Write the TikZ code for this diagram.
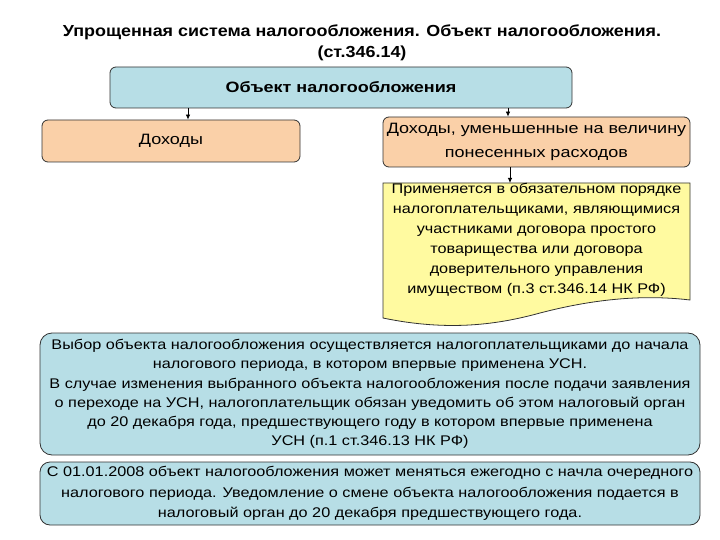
\documentclass[tikz,border=0pt]{standalone}
\usepackage{fontspec}
\setmainfont{Liberation Sans}
\newfontfamily\widefont[FakeStretch=1.16]{Liberation Sans}
\newfontfamily\titlefont[FakeStretch=1.12]{Liberation Sans}
\newfontfamily\boxfont[FakeStretch=1.2]{Liberation Sans}
\usetikzlibrary{arrows.meta,calc}
\definecolor{bluebox}{RGB}{183,222,230}
\definecolor{orangebox}{RGB}{250,208,168}
\definecolor{yellowbox}{RGB}{255,250,160}
\definecolor{edge}{RGB}{50,50,50}
\tikzset{
  box/.style={draw=edge, line width=0.8pt, rounded corners=6pt, align=center, inner sep=1pt},
  arr/.style={draw=black, line width=0.8pt, -{Latex[length=5pt,width=4.5pt]}},
  bodytext/.style={font=\widefont\fontsize{14}{19.3}\selectfont}
}
\begin{document}
\begin{tikzpicture}[x=1pt,y=-1pt]
\useasboundingbox (0,0) rectangle (720,540);
\node[font=\titlefont\bfseries\fontsize{16}{20.5}\selectfont, align=center] (title) at (362,43)
  {Упрощенная система налогообложения. Объект налогообложения.\\(ст.346.14)};
\node[box, fill=bluebox, minimum width=462, minimum height=41, font=\boxfont\bfseries\fontsize{15}{19}\selectfont] (top) at (341,87.5) {Объект налогообложения};
\node[box, fill=orangebox, minimum width=258, minimum height=42, font=\boxfont\fontsize{15}{24}\selectfont] (inc) at (171,141) {Доходы};
\node[box, fill=orangebox, minimum width=307, minimum height=50, font=\boxfont\fontsize{15}{24}\selectfont, text width=305] (incexp) at (536.5,142) {Доходы, уменьшенные на величину\\понесенных расходов};
% document shape
\path[draw=edge, line width=0.8pt, fill=yellowbox]
  (383,183) -- (690,183) -- (690,300)
  .. controls (640,294) and (590,300) .. (540,313)
  .. controls (500,324) and (450,332) .. (383,318) -- cycle;
\node[align=center, font=\widefont\fontsize{14}{20}\selectfont] (doc) at (536.5,240)
  {Применяется в обязательном порядке\\налогоплательщиками, являющимися\\участниками договора простого\\товарищества или договора\\доверительного управления\\имуществом (п.3 ст.346.14 НК РФ)};
\coordinate (docnorth) at (510,183);
\node[box, fill=bluebox, rounded corners=12pt, minimum width=660, minimum height=122, bodytext] (choice) at (370,394)
  {Выбор объекта налогообложения осуществляется налогоплательщиками до начала\\налогового периода, в котором впервые применена УСН.\\В случае изменения выбранного объекта налогообложения после подачи заявления\\о переходе на УСН, налогоплательщик обязан уведомить об этом налоговый орган\\до 20 декабря года, предшествующего году в котором впервые применена\\УСН (п.1 ст.346.13 НК РФ)};
\node[box, fill=bluebox, rounded corners=10pt, minimum width=660, minimum height=63, font=\widefont\fontsize{14}{20.5}\selectfont] (change) at (370,493.5)
  {С 01.01.2008 объект налогообложения может меняться ежегодно с начла очередного\\налогового периода. Уведомление о смене объекта налогообложения подается в\\налоговый орган до 20 декабря предшествующего года.};
\coordinate (a1) at (188,0);
\coordinate (a2) at (508,0);
\coordinate (a3) at (510,0);
\draw[arr] (top.south -| a1) -- (inc.north -| a1);
\draw[arr] (top.south -| a2) -- (incexp.north -| a2);
\draw[arr] (incexp.south -| a3) -- (docnorth);
\end{tikzpicture}
\end{document}
